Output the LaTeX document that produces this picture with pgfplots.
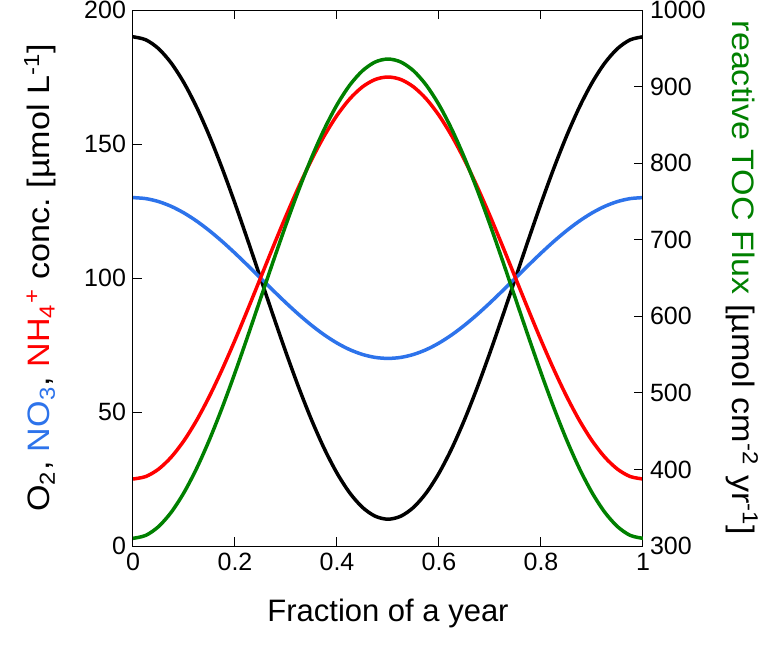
\documentclass[border=0pt]{standalone}
\usepackage{pgfplots}
\pgfplotsset{compat=1.18}
\usepackage{pgfplotstable}
\usepackage{fontspec}
\setmainfont{Liberation Sans}
\frenchspacing
\definecolor{cblue}{RGB}{45,115,235}
\definecolor{cred}{RGB}{255,0,0}
\definecolor{cgreen}{RGB}{0,128,0}

\pgfplotstableread{
x o2 no3 nh4 toc
0.000 190.00 130.00 25.00 310.00
0.025 188.89 129.63 25.92 313.85
0.050 185.60 128.53 28.67 325.32
0.075 180.19 126.73 33.17 344.11
0.100 172.81 124.27 39.32 369.78
0.125 163.64 121.21 46.97 401.68
0.150 152.90 117.63 55.92 439.02
0.175 140.86 113.62 65.95 480.90
0.200 127.81 109.27 76.82 526.28
0.225 114.08 104.69 88.27 574.04
0.250 100.00 100.00 100.00 623.00
0.275 85.92 95.31 111.73 671.96
0.300 72.19 90.73 123.18 719.72
0.325 59.14 86.38 134.05 765.10
0.350 47.10 82.37 144.08 806.98
0.375 36.36 78.79 153.03 844.32
0.400 27.19 75.73 160.68 876.22
0.425 19.81 73.27 166.83 901.89
0.450 14.40 71.47 171.33 920.68
0.475 11.11 70.37 174.08 932.15
0.500 10.00 70.00 175.00 936.00
0.525 11.11 70.37 174.08 932.15
0.550 14.40 71.47 171.33 920.68
0.575 19.81 73.27 166.83 901.89
0.600 27.19 75.73 160.68 876.22
0.625 36.36 78.79 153.03 844.32
0.650 47.10 82.37 144.08 806.98
0.675 59.14 86.38 134.05 765.10
0.700 72.19 90.73 123.18 719.72
0.725 85.92 95.31 111.73 671.96
0.750 100.00 100.00 100.00 623.00
0.775 114.08 104.69 88.27 574.04
0.800 127.81 109.27 76.82 526.28
0.825 140.86 113.62 65.95 480.90
0.850 152.90 117.63 55.92 439.02
0.875 163.64 121.21 46.97 401.68
0.900 172.81 124.27 39.32 369.78
0.925 180.19 126.73 33.17 344.11
0.950 185.60 128.53 28.67 325.32
0.975 188.89 129.63 25.92 313.85
1.000 190.00 130.00 25.00 310.00
}\data

\pgfplotsset{
  common/.style={
    scale only axis, width=255pt, height=268pt,
    xmin=0, xmax=1,
    tick align=inside,
    major tick length=4.5pt,
    axis line style={line width=0.5pt},
    every tick/.style={black, line width=0.5pt},
    /pgf/number format/assume math mode=true,
    /pgf/number format/1000 sep={},
    tick label style={font=\fontsize{12.5}{14}\selectfont},
    label style={font=\fontsize{15.5}{18}\selectfont},
  }
}

\begin{document}
\begin{tikzpicture}
\path[use as bounding box] (-66.5pt,-49.5pt) rectangle (317.5pt,273pt);
\begin{axis}[common,
  ymin=0, ymax=200,
  xtick={0,0.2,0.4,0.6,0.8,1},
  xticklabels={0,0.2,0.4,0.6,0.8,1},
  ytick={0,50,100,150,200},
  ytick pos=left, xtick pos=both,
  xlabel={Fraction of a year},
  xlabel style={at={(axis description cs:0.5,-0.125)}, anchor=center},
  ylabel={O\textsubscript{2}, \textcolor{cblue}{NO\textsubscript{3}}, \textcolor{cred}{NH\textsubscript{4}\textsuperscript{+}} conc. [µmol L\textsuperscript{-1}]},
  ylabel style={at={(axis description cs:-0.182,0.5)}, anchor=center, xscale=1.1},
]
\addplot[black, line width=1.75pt, smooth] table[x=x, y=o2] {\data};
\addplot[cblue, line width=1.75pt, smooth] table[x=x, y=no3] {\data};
\addplot[cred, line width=1.75pt, smooth] table[x=x, y=nh4] {\data};
\end{axis}
\begin{axis}[common,
  ymin=300, ymax=1000,
  xtick=\empty,
  ytick={300,400,500,600,700,800,900,1000},
  ytick pos=right,
  ylabel={\textcolor{cgreen}{reactive TOC Flux} [µmol cm\textsuperscript{-2} yr\textsuperscript{-1}]},
  ylabel style={at={(axis description cs:1.194,0.5)}, anchor=center, rotate=180, xscale=1.1},
]
\addplot[cgreen, line width=1.75pt, smooth] table[x=x, y=toc] {\data};
\end{axis}
\end{tikzpicture}
\end{document}
